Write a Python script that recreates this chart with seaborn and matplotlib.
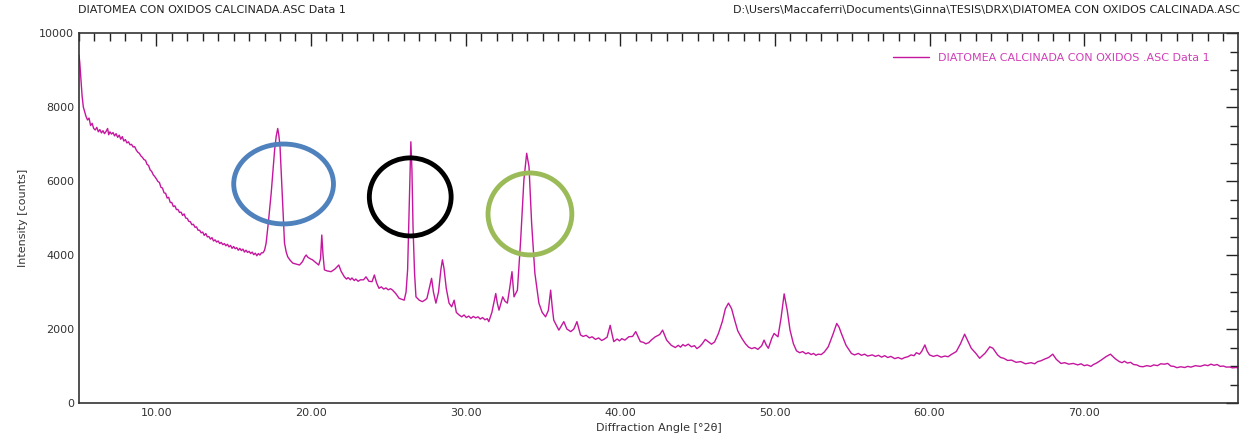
import matplotlib
matplotlib.use("Agg")
import matplotlib.pyplot as plt
from matplotlib.patches import Ellipse
from matplotlib.ticker import MultipleLocator, FormatStrFormatter
import pandas as pd
import seaborn as sns

# XRD pattern (2theta in degrees, counts), one line per region
angle = [
    5.00, 5.05, 5.10, 5.15, 5.20, 5.28, 5.35, 5.45, 5.55, 5.65, 5.75, 5.85, 5.95,
    6.05, 6.15, 6.25, 6.35, 6.45, 6.55, 6.65, 6.75, 6.85, 6.92, 7.00, 7.10, 7.20,
    7.30, 7.40, 7.50, 7.60, 7.70, 7.80, 7.90, 8.00, 8.10, 8.20, 8.30, 8.40, 8.50,
    8.60, 8.70, 8.80, 8.90, 9.00, 9.10, 9.20, 9.30, 9.40, 9.50, 9.60, 9.70, 9.80, 9.90,
    10.00, 10.10, 10.20, 10.30, 10.40, 10.50, 10.60, 10.70, 10.80, 10.90,
    11.00, 11.10, 11.20, 11.30, 11.40, 11.50, 11.60, 11.70, 11.80, 11.90,
    12.00, 12.10, 12.20, 12.30, 12.40, 12.50, 12.60, 12.70, 12.80, 12.90,
    13.00, 13.10, 13.20, 13.30, 13.40, 13.50, 13.60, 13.70, 13.80, 13.90,
    14.00, 14.10, 14.20, 14.30, 14.40, 14.50, 14.60, 14.70, 14.80, 14.90,
    15.00, 15.10, 15.20, 15.30, 15.40, 15.50, 15.60, 15.70, 15.80, 15.90,
    16.00, 16.10, 16.20, 16.30, 16.40, 16.50, 16.60, 16.70, 16.80, 16.90,
    17.00, 17.10, 17.25, 17.43, 17.55, 17.65, 17.75, 17.85, 17.92, 18.00,
    18.07, 18.14, 18.22, 18.29, 18.40, 18.50, 18.65, 18.83, 19.00, 19.26,
    19.45, 19.60, 19.69, 19.80, 19.95, 20.10, 20.30, 20.50, 20.62, 20.70,
    20.78, 20.87, 21.05, 21.30, 21.55, 21.80, 21.95, 22.16, 22.30, 22.40,
    22.55, 22.65, 22.80, 22.90, 23.05, 23.20, 23.40, 23.56, 23.75, 23.95,
    24.10, 24.25, 24.40, 24.55, 24.70, 24.85, 25.00, 25.15, 25.28, 25.50,
    25.70, 25.90, 26.03, 26.15, 26.25, 26.35, 26.46, 26.53, 26.60, 26.70,
    26.79, 27.00, 27.20, 27.40, 27.50, 27.65, 27.80, 27.92, 28.08, 28.25,
    28.40, 28.50, 28.60, 28.75, 28.93, 29.10, 29.26, 29.40, 29.58, 29.75,
    29.90, 30.05, 30.20, 30.35, 30.50, 30.65, 30.80, 30.95, 31.10, 31.25,
    31.40, 31.50, 31.70, 31.95, 32.05, 32.16, 32.40, 32.55, 32.70, 32.85,
    33.00, 33.13, 33.35, 33.56, 33.77, 33.95, 34.10, 34.27, 34.48, 34.74,
    34.95, 35.17, 35.35, 35.50, 35.60, 35.70, 36.03, 36.35, 36.55, 36.80,
    37.00, 37.20, 37.43, 37.60, 37.80, 38.00, 38.18, 38.40, 38.60, 38.80,
    38.94, 39.15, 39.35, 39.45, 39.58, 39.80, 39.95, 40.10, 40.30, 40.55,
    40.80, 41.00, 41.30, 41.50, 41.65, 41.84, 42.00, 42.27, 42.55, 42.74,
    43.00, 43.30, 43.56, 43.75, 43.90, 44.05, 44.20, 44.40, 44.60, 44.80,
    44.96, 45.15, 45.30, 45.50, 45.90, 46.10, 46.35, 46.60, 46.80, 47.00,
    47.20, 47.40, 47.60, 47.86, 48.10, 48.30, 48.50, 48.70, 48.90, 49.15,
    49.30, 49.45, 49.58, 49.80, 49.95, 50.20, 50.40, 50.60, 50.80, 50.98,
    51.20, 51.40, 51.60, 51.80, 52.00, 52.16, 52.35, 52.50, 52.65, 52.80,
    53.00, 53.20, 53.45, 53.75, 54.00, 54.15, 54.30, 54.60, 54.95, 55.15,
    55.40, 55.60, 55.80, 56.00, 56.30, 56.50, 56.70, 56.90, 57.10, 57.30,
    57.50, 57.75, 57.97, 58.20, 58.40, 58.60, 58.80, 59.00, 59.15, 59.35,
    59.50, 59.70, 59.85, 60.00, 60.25, 60.50, 60.75, 61.00, 61.20, 61.40,
    61.73, 62.00, 62.27, 62.45, 62.70, 63.00, 63.24, 63.60, 63.90, 64.10,
    64.40, 64.60, 64.80, 65.05, 65.30, 65.60, 65.90, 66.20, 66.57, 66.80,
    67.00, 67.20, 67.40, 67.70, 67.97, 68.20, 68.50, 68.75, 69.00, 69.30,
    69.58, 69.80, 70.00, 70.20, 70.44, 70.60, 70.80, 71.10, 71.40, 71.70,
    72.00, 72.27, 72.45, 72.60, 72.80, 73.00, 73.20, 73.40, 73.60, 73.80,
    74.05, 74.30, 74.50, 74.74, 74.95, 75.20, 75.40, 75.60, 75.80, 76.00,
    76.25, 76.50, 76.70, 76.90, 77.20, 77.50, 77.80, 78.00, 78.20, 78.40,
    78.60, 78.80, 79.00, 79.20, 79.40, 79.60, 79.80, 80.00,
]
counts = [
    9400, 9200, 8900, 8600, 8300, 8000, 7900, 7750, 7650, 7700, 7500, 7560, 7420,
    7380, 7450, 7330, 7390, 7300, 7360, 7280, 7340, 7420, 7250, 7330, 7270, 7310,
    7220, 7280, 7180, 7240, 7130, 7200, 7080, 7120, 7030, 7060, 6980, 6990, 6920,
    6930, 6840, 6780, 6750, 6680, 6640, 6580, 6560, 6450, 6420, 6300, 6260, 6170, 6120,
    6060, 5990, 5960, 5830, 5810, 5680, 5670, 5540, 5560, 5420,
    5420, 5310, 5330, 5230, 5230, 5150, 5160, 5070, 5110, 5000,
    4990, 4910, 4900, 4820, 4830, 4750, 4760, 4670, 4670, 4600,
    4620, 4530, 4580, 4490, 4500, 4430, 4470, 4380, 4410, 4350,
    4380, 4310, 4340, 4280, 4310, 4250, 4290, 4220, 4260, 4180,
    4230, 4170, 4200, 4130, 4180, 4120, 4160, 4080, 4130, 4070,
    4100, 4040, 4080, 4010, 4050, 3980, 4040, 4000, 4060, 4060,
    4130, 4320, 4900, 5680, 6300, 6840, 7200, 7420, 7250, 6930,
    6300, 5680, 4950, 4320, 4080, 3950, 3860, 3780, 3760, 3730,
    3820, 3950, 4000, 3940, 3900, 3870, 3800, 3730, 3900, 4540,
    4000, 3600, 3570, 3550, 3620, 3730, 3560, 3410, 3350, 3390,
    3330, 3380, 3310, 3350, 3290, 3330, 3330, 3410, 3290, 3280,
    3460, 3240, 3100, 3140, 3080, 3110, 3060, 3090, 3050, 2950,
    2830, 2800, 2780, 3000, 3600, 5200, 7060, 6300, 4770, 3500,
    2870, 2780, 2740, 2790, 2830, 3100, 3370, 3000, 2700, 3000,
    3600, 3870, 3650, 3100, 2700, 2600, 2780, 2450, 2380, 2330,
    2380, 2310, 2350, 2290, 2340, 2300, 2330, 2270, 2310, 2250,
    2280, 2200, 2450, 2960, 2700, 2510, 2870, 2750, 2700, 3100,
    3550, 2870, 3050, 4400, 6030, 6750, 6390, 4860, 3510, 2700,
    2450, 2330, 2500, 3050, 2600, 2240, 1970, 2200, 2000, 1930,
    2000, 2200, 1840, 1800, 1830, 1760, 1790, 1720, 1760, 1690,
    1720, 1780, 2100, 1900, 1660, 1730, 1680, 1740, 1700, 1790,
    1800, 1930, 1660, 1640, 1600, 1630, 1700, 1790, 1850, 1970,
    1700, 1560, 1500, 1560, 1510, 1580, 1540, 1590, 1520, 1550,
    1470, 1530, 1600, 1720, 1590, 1650, 1880, 2200, 2550, 2700,
    2550, 2240, 1950, 1750, 1600, 1510, 1470, 1500, 1450, 1550,
    1700, 1560, 1480, 1750, 1880, 1790, 2300, 2950, 2500, 1970,
    1600, 1410, 1360, 1390, 1330, 1360, 1310, 1340, 1290, 1320,
    1310, 1380, 1520, 1850, 2150, 2050, 1880, 1560, 1340, 1300,
    1340, 1290, 1320, 1270, 1300, 1260, 1290, 1240, 1280, 1230,
    1260, 1200, 1230, 1190, 1230, 1250, 1300, 1280, 1360, 1320,
    1400, 1570, 1400, 1300, 1260, 1290, 1240, 1270, 1250, 1310,
    1390, 1600, 1860, 1700, 1480, 1340, 1210, 1350, 1520, 1480,
    1300, 1230, 1210, 1150, 1160, 1100, 1120, 1060, 1090, 1060,
    1120, 1140, 1180, 1230, 1320, 1180, 1070, 1090, 1050, 1070,
    1030, 1060, 1010, 1030, 990, 1040, 1080, 1160, 1250, 1320,
    1200, 1120, 1090, 1130, 1080, 1100, 1040, 1030, 990, 980,
    1010, 990, 1030, 1010, 1060, 1050, 1070, 1000, 990, 955,
    980, 960, 990, 970, 1010, 990, 1030, 1010, 1050, 1020,
    1040, 990, 1000, 970, 975, 950, 960, 950,
]

series_name = "DIATOMEA CALCINADA CON OXIDOS .ASC Data 1"
file_title = "DIATOMEA CON OXIDOS CALCINADA.ASC Data 1"
file_path = "D:\\Users\\Maccaferri\\Documents\\Ginna\\TESIS\\DRX\\DIATOMEA CON OXIDOS CALCINADA.ASC"

# highlighted peaks: centre angle, centre counts, width (deg), height (counts), colour
circle_x = [18.23, 26.42, 34.16]
circle_y = [5920, 5570, 5110]
circle_w = [6.45, 5.29, 5.42]
circle_h = [2160, 2110, 2215]
circle_colors = ["#4f81bd", "#000000", "#9bbb59"]

df = pd.DataFrame({"angle": angle, "counts": counts})

sns.set_style("white")
plt.rcParams["font.family"] = ["DejaVu Sans"]

fig = plt.figure(figsize=(12.46, 4.48), dpi=100)
ax = fig.add_axes([0.0634, 0.1004, 0.9302, 0.8259])

line_color = "#c4169e"
sns.lineplot(data=df, x="angle", y="counts", color=line_color, linewidth=1.0,
             label=series_name, ax=ax, estimator=None)

for cx, cy, w, h, c in zip(circle_x, circle_y, circle_w, circle_h, circle_colors):
    ax.add_patch(Ellipse((cx, cy), w, h, fill=False, edgecolor=c, linewidth=3.5, zorder=5))

ax.set_xlim(5, 79.95)
ax.set_ylim(0, 10000)
ax.xaxis.set_major_locator(MultipleLocator(10))
ax.xaxis.set_minor_locator(MultipleLocator(1))
ax.xaxis.set_major_formatter(FormatStrFormatter("%.2f"))
ax.yaxis.set_major_locator(MultipleLocator(2000))
ax.yaxis.set_minor_locator(MultipleLocator(500))
ax.tick_params(which="both", direction="in", top=True, right=True,
               labelsize=8, colors="#222222", labelcolor="#333333")
ax.tick_params(which="major", length=9, width=1)
ax.tick_params(which="minor", length=6, width=1)
for s in ax.spines.values():
    s.set_color("#333333")
    s.set_linewidth(1.2)

ax.set_xlabel("Diffraction Angle [°2θ]", fontsize=8, color="#333333", labelpad=4)
ax.set_ylabel("Intensity [counts]", fontsize=8, color="#333333", labelpad=8)

fig.text(0.0626, 0.978, file_title, fontsize=8, color="#222222", ha="left", va="center")
fig.text(0.9952, 0.978, file_path, fontsize=8, color="#222222", ha="right", va="center")

leg = ax.legend(loc="upper right", frameon=False, fontsize=8, handlelength=3.2,
                borderaxespad=0.6, bbox_to_anchor=(0.985, 0.975))
for t in leg.get_texts():
    t.set_color("#d13fb8")

fig.savefig("out.png", dpi=100)
